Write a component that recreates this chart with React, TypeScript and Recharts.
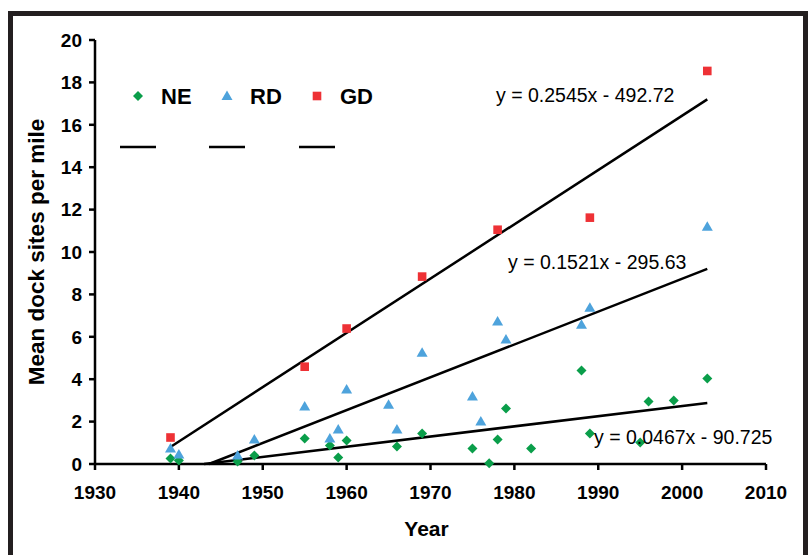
import { ScatterChart, Scatter, XAxis, YAxis, Label } from 'recharts';

// years and mean dock sites per mile
const neYears = [1939, 1940, 1947, 1949, 1955, 1958, 1959, 1960, 1966, 1969, 1975, 1977, 1978, 1979, 1982, 1988, 1989, 1995, 1996, 1999, 2003];
const neSites = [0.26, 0.16, 0.12, 0.4, 1.2, 0.87, 0.31, 1.11, 0.82, 1.44, 0.73, 0.03, 1.15, 2.62, 0.73, 4.41, 1.44, 1.01, 2.95, 2.99, 4.03];

const rdYears = [1939, 1940, 1947, 1949, 1955, 1958, 1959, 1960, 1965, 1966, 1969, 1975, 1976, 1978, 1979, 1988, 1989, 2003];
const rdSites = [0.73, 0.45, 0.4, 1.15, 2.71, 1.2, 1.63, 3.51, 2.8, 1.63, 5.25, 3.18, 2.0, 6.72, 5.87, 6.57, 7.37, 11.19];

const gdYears = [1939, 1955, 1960, 1969, 1978, 1989, 2003];
const gdSites = [1.25, 4.59, 6.39, 8.84, 11.05, 11.62, 18.54];

// trend line end points
const gdTrendYears = [1938.9, 2003];
const gdTrendSites = [0.78, 17.2];
const rdTrendYears = [1943.6, 2003];
const rdTrendSites = [0, 9.2];
const neTrendYears = [1943, 2003];
const neTrendSites = [0, 2.88];

const equations = ['y = 0.2545x - 492.72', 'y = 0.1521x - 295.63', 'y = 0.0467x - 90.725'];
const seriesNames = ['NE', 'RD', 'GD'];

const xTicks = [1930, 1940, 1950, 1960, 1970, 1980, 1990, 2000, 2010];
const yTicks = [0, 2, 4, 6, 8, 10, 12, 14, 16, 18, 20];

const GREEN = '#0a9e4a';
const BLUE = '#4ea3dc';
const RED = '#ee3135';
const FONT = '"Liberation Sans", Arial, sans-serif';

const zip = (xs: number[], ys: number[]) => xs.map((x, i) => ({ x, y: ys[i] }));

const neData = zip(neYears, neSites);
const rdData = zip(rdYears, rdSites);
const gdData = zip(gdYears, gdSites);

const Diamond = ({ cx, cy }: any) => (
  <polygon points={`${cx},${cy - 5} ${cx + 5},${cy} ${cx},${cy + 5} ${cx - 5},${cy}`} fill={GREEN} />
);
const Triangle = ({ cx, cy }: any) => (
  <polygon points={`${cx},${cy - 5.5} ${cx + 5.5},${cy + 4} ${cx - 5.5},${cy + 4}`} fill={BLUE} />
);
const Square = ({ cx, cy }: any) => (
  <rect x={cx - 4.3} y={cy - 4.3} width={8.6} height={8.6} fill={RED} />
);
const NoDot = () => <g />;

const tickStyle = { fontFamily: FONT, fontSize: 19, fontWeight: 'bold', fill: '#000' };

if (typeof document !== 'undefined') {
  document.body.style.margin = '0';
  document.body.style.overflow = 'hidden';
}

export default function App() {
  const markers = [Diamond, Triangle, Square];
  const legendX = [138, 227, 317];
  const lineX = [120, 209, 299];
  const eqPos = [
    { x: 496, y: 102 },
    { x: 508, y: 269 },
    { x: 594, y: 444 },
  ];

  return (
    <div style={{ position: 'relative', width: 808, height: 555, background: '#fff' }}>
      <ScatterChart width={808} height={555} margin={{ top: 40, right: 42, left: 35, bottom: 46 }}>
        <XAxis
          dataKey="x"
          type="number"
          domain={[1930, 2010]}
          ticks={xTicks}
          interval={0}
          tick={tickStyle}
          tickSize={6}
          tickMargin={16}
          stroke="#000"
          strokeWidth={2.5}
          height={45}
        >
          <Label
            content={({ viewBox }: any) => (
              <text
                x={viewBox.x + viewBox.width / 2 - 4}
                y={viewBox.y + 72}
                textAnchor="middle"
                style={{ fontFamily: FONT, fontSize: 21, fontWeight: 'bold' }}
              >
                Year
              </text>
            )}
          />
        </XAxis>
        <YAxis
          dataKey="y"
          type="number"
          domain={[0, 20]}
          ticks={yTicks}
          interval={0}
          tick={tickStyle}
          tickSize={6}
          tickMargin={7}
          stroke="#000"
          strokeWidth={2.5}
          width={60}
        >
          <Label
            content={({ viewBox }: any) => {
              const cx = viewBox.x + 9;
              const cy = viewBox.y + viewBox.height / 2;
              return (
                <text
                  x={cx}
                  y={cy}
                  transform={`rotate(-90 ${cx} ${cy})`}
                  textAnchor="middle"
                  style={{ fontFamily: FONT, fontSize: 22.5, fontWeight: 'bold' }}
                >
                  Mean dock sites per mile
                </text>
              );
            }}
          />
        </YAxis>
        <Scatter data={zip(gdTrendYears, gdTrendSites)} line={{ stroke: '#000', strokeWidth: 2.5 }} shape={NoDot} isAnimationActive={false} />
        <Scatter data={zip(rdTrendYears, rdTrendSites)} line={{ stroke: '#000', strokeWidth: 2.5 }} shape={NoDot} isAnimationActive={false} />
        <Scatter data={zip(neTrendYears, neTrendSites)} line={{ stroke: '#000', strokeWidth: 2.5 }} shape={NoDot} isAnimationActive={false} />
        <Scatter name="NE" data={neData} shape={Diamond} isAnimationActive={false} />
        <Scatter name="RD" data={rdData} shape={Triangle} isAnimationActive={false} />
        <Scatter name="GD" data={gdData} shape={Square} isAnimationActive={false} />
      </ScatterChart>

      <svg width={808} height={555} style={{ position: 'absolute', left: 0, top: 0, pointerEvents: 'none' }}>
        {seriesNames.map((name, i) => {
          const M = markers[i];
          return (
            <g key={name}>
              <M cx={legendX[i]} cy={96} />
              <text x={legendX[i] + 23} y={104} style={{ fontFamily: FONT, fontSize: 22, fontWeight: 'bold' }}>
                {name}
              </text>
              <line x1={lineX[i]} x2={lineX[i] + 36} y1={147} y2={147} stroke="#000" strokeWidth={2.6} />
            </g>
          );
        })}
        {equations.map((eq, i) => (
          <text key={eq} x={eqPos[i].x} y={eqPos[i].y} style={{ fontFamily: FONT, fontSize: 19.5 }}>
            {eq}
          </text>
        ))}
      </svg>

      <div
        style={{
          position: 'absolute',
          left: 8,
          top: 11,
          width: 800,
          height: 600,
          border: '5px solid #231f20',
          boxSizing: 'border-box',
          pointerEvents: 'none',
        }}
      />
    </div>
  );
}
